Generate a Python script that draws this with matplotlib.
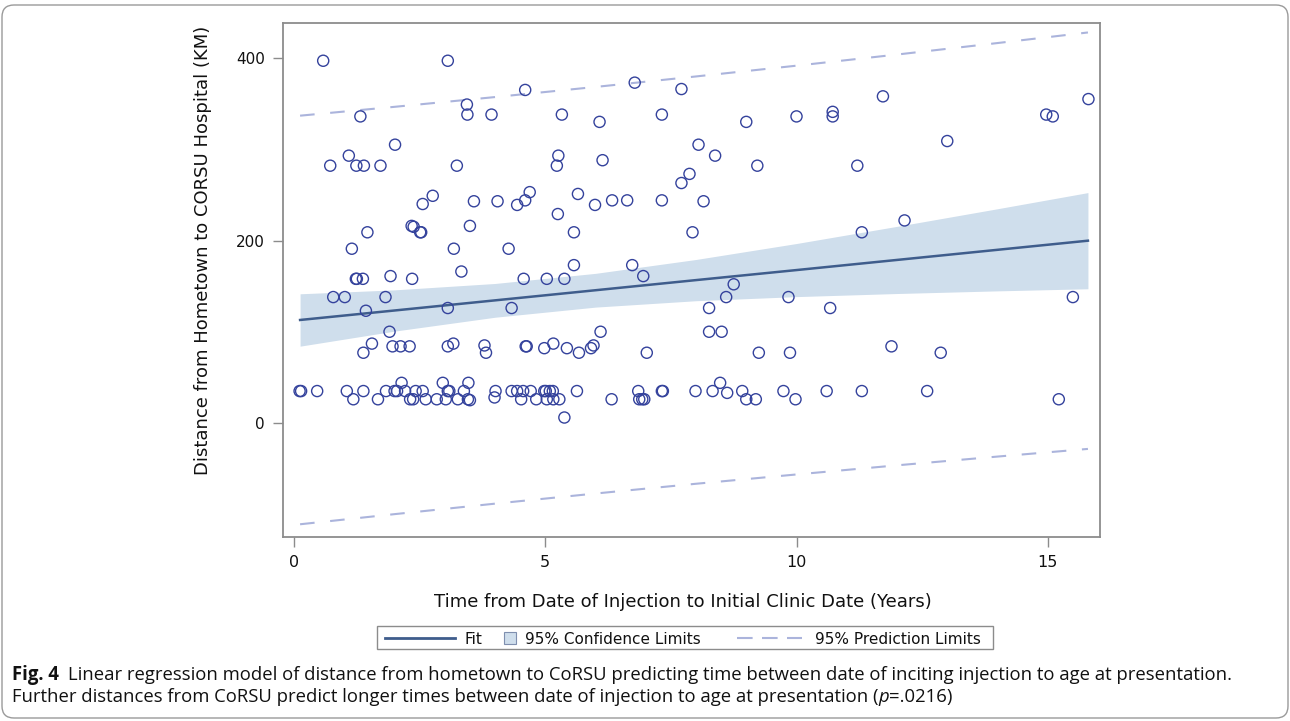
import numpy as np
import matplotlib
matplotlib.use("Agg")
import matplotlib.pyplot as plt
from matplotlib.lines import Line2D
from matplotlib.patches import Rectangle, FancyBboxPatch
from matplotlib.transforms import IdentityTransform

# ---------------- data ----------------
years = [
    0.58, 3.06, 4.60, 6.78, 7.71, 1.32, 3.44, 3.45, 3.93, 5.33, 6.08, 7.32, 2.01, 1.09, 0.72,
    1.24, 1.39, 1.72, 3.24, 5.26, 5.23, 6.14, 7.71, 2.76, 2.56, 3.58, 4.05, 4.44, 4.60, 4.69,
    5.65, 5.99, 6.33, 6.63, 7.32, 5.25, 2.34, 2.38, 2.51, 2.53, 1.46, 3.50, 5.57, 1.15, 3.18,
    4.27, 5.57, 6.73, 6.95, 1.23, 1.25, 1.37, 1.92, 2.35, 3.33, 4.57, 5.03, 5.38, 0.78, 1.01,
    1.82, 1.43, 3.06, 4.33,
    11.72, 15.81, 10.00, 10.72, 10.72, 14.97, 15.10, 9.00, 13.00, 8.05, 8.38, 9.22, 11.21,
    7.87, 8.15, 7.93, 11.30, 12.15, 8.75, 8.60, 9.84, 15.50, 8.26, 10.67,
    8.26, 8.51, 9.25, 9.87, 11.89, 12.87, 7.34, 7.99, 8.33, 8.48, 8.62, 8.92, 9.00, 9.19,
    9.74, 9.98, 10.60, 11.30, 12.60, 15.22,
    1.90, 6.10, 1.55, 1.38, 1.96, 2.12, 2.30, 3.06, 3.17, 3.79, 3.82, 4.61, 4.63, 4.98, 5.16,
    5.43, 5.67, 5.91, 5.96, 7.02,
    0.11, 0.14, 0.46, 1.05, 1.18, 1.38, 1.67, 1.83, 2.00, 2.05, 2.14, 2.21, 2.31, 2.37, 2.42,
    2.56, 2.62, 2.84, 2.96, 3.02, 3.06, 3.09, 3.26, 3.38, 3.47, 3.46, 3.50, 4.01, 3.99, 4.33,
    4.44, 4.52, 4.56, 4.71, 4.82, 4.98, 5.01, 5.03, 5.09, 5.15, 5.16, 5.28, 5.38, 5.63, 6.32,
    6.85, 6.87, 6.93, 6.97, 7.32,
]
distance_km = [
    397, 397, 365, 373, 366, 336, 349, 338, 338, 338, 330, 338, 305, 293, 282,
    282, 282, 282, 282, 293, 282, 288, 263, 249, 240, 243, 243, 239, 244, 253,
    251, 239, 244, 244, 244, 229, 216, 215, 209, 209, 209, 216, 209, 191, 191,
    191, 173, 173, 161, 158, 158, 158, 161, 158, 166, 158, 158, 158, 138, 138,
    138, 123, 126, 126,
    358, 355, 336, 341, 336, 338, 336, 330, 309, 305, 293, 282, 282,
    273, 243, 209, 209, 222, 152, 138, 138, 138, 126, 126,
    100, 100, 77, 77, 84, 77, 35, 35, 35, 44, 33, 35, 26, 26,
    35, 26, 35, 35, 35, 26,
    100, 100, 87, 77, 84, 84, 84, 84, 87, 85, 77, 84, 84, 82, 87,
    82, 77, 82, 85, 77,
    35, 35, 35, 35, 26, 35, 26, 35, 35, 35, 44, 35, 26, 26, 35,
    35, 26, 26, 44, 26, 35, 35, 26, 35, 44, 26, 25, 35, 28, 35,
    35, 26, 35, 35, 26, 35, 35, 26, 35, 35, 26, 26, 6, 35, 26,
    35, 26, 26, 26, 35,
]

# regression curves
curve_x = [0.12, 2, 4, 6, 8, 10, 12, 14, 15.8]
fit_y = [112.9, 123.3, 134.4, 145.5, 156.6, 167.6, 178.7, 189.8, 199.8]
cl_lower = [84.2, 100.7, 115.9, 127.0, 134.0, 138.5, 141.9, 144.8, 147.1]
cl_upper = [141.6, 145.9, 152.9, 164.0, 179.2, 196.7, 215.5, 234.8, 252.5]
pl_lower = [-111.0, -99.9, -88.4, -77.3, -66.6, -56.4, -46.4, -36.8, -28.4]
pl_upper = [336.8, 346.5, 357.2, 368.3, 379.8, 391.6, 403.8, 416.4, 428.0]

x_ticks = [0, 5, 10, 15]
y_ticks = [0, 200, 400]

x_title = "Time from Date of Injection to Initial Clinic Date (Years)"
y_title = "Distance from Hometown to CORSU Hospital (KM)"
legend_labels = ["Fit", "95% Confidence Limits", "95% Prediction Limits"]
caption_bold = "Fig. 4"
caption_line1 = ("Linear regression model of distance from hometown to CoRSU predicting time "
                 "between date of inciting injection to age at presentation.")
caption_line2a = "Further distances from CoRSU predict longer times between date of injection to age at presentation ("
caption_line2b = "p"
caption_line2c = "=.0216)"

# ---------------- style ----------------
W, H = 1290, 721
C_MARK = "#34429C"
C_FIT = "#3F5D8C"
C_BAND = "#CFDEEC"
C_PL = "#ABB4DC"
C_SPINE = "#8C8C8C"
TXT = "#111111"
plot_font = ["DejaVu Sans"]
cap_font = ["Open Sans", "DejaVu Sans"]


def fx(x):
    return x / W


def fy(y):
    return 1 - y / H


fig = plt.figure(figsize=(W / 100, H / 100), dpi=100)
ax = fig.add_axes([fx(283), fy(536.5), (1100 - 283) / W, (536.5 - 22.7) / H])

ax.fill_between(curve_x, cl_lower, cl_upper, color=C_BAND, lw=0, zorder=1)
ax.plot(curve_x, fit_y, color=C_FIT, lw=1.8, zorder=3)
for ys in (pl_lower, pl_upper):
    ax.plot(curve_x, ys, color=C_PL, lw=1.5, linestyle=(0, (7, 7.5)), zorder=2)
ax.scatter(years, distance_km, s=64, facecolors="none", edgecolors=C_MARK,
           linewidths=1.0, zorder=4)

ax.set_xlim(-0.22, 16.04)
ax.set_ylim(-124.4, 438.7)
ax.set_xticks(x_ticks)
ax.set_yticks(y_ticks)
ax.tick_params(direction="out", length=7, width=1, color=C_SPINE, pad=6)
ax.tick_params(axis="x", labelsize=11.5)
ax.tick_params(axis="y", labelsize=11)
for lab in ax.get_xticklabels() + ax.get_yticklabels():
    lab.set_family(plot_font)
    lab.set_color(TXT)
for sp in ax.spines.values():
    sp.set_color(C_SPINE)
    sp.set_linewidth(1.3)

fig.text(fx(683), fy(602), x_title, ha="center", va="center",
         fontsize=13, family=plot_font, color=TXT)
fig.text(fx(203), fy(250), y_title, ha="center", va="center", rotation=90,
         fontsize=13, family=plot_font, color=TXT)

# ---------------- legend (drawn in figure space) ----------------
ly = 637.5
tf = fig.transFigure
fig.add_artist(Rectangle((fx(377), fy(649)), fx(993) - fx(377), (649 - 626) / H,
                         transform=tf, fill=False, edgecolor=C_SPINE, lw=1.0))
fig.add_artist(Line2D([fx(385), fx(455)], [fy(ly)] * 2, transform=tf, color=C_FIT, lw=2))
fig.text(fx(465), fy(ly), legend_labels[0], ha="left", va="center_baseline",
         fontsize=11, family=plot_font, color=TXT)
fig.add_artist(Rectangle((fx(504), fy(643.5)), 12 / W, 12 / H, transform=tf,
                         facecolor=C_BAND, edgecolor="#7F8FAF", lw=0.8))
fig.text(fx(525), fy(ly), legend_labels[1], ha="left", va="center_baseline",
         fontsize=11, family=plot_font, color=TXT)
fig.add_artist(Line2D([fx(737), fx(802)], [fy(ly)] * 2, transform=tf, color=C_PL,
                      lw=1.5, linestyle=(0, (7.5, 4.5))))
fig.text(fx(815), fy(ly), legend_labels[2], ha="left", va="center_baseline",
         fontsize=11, family=plot_font, color=TXT)

# ---------------- caption ----------------
r = fig.canvas.get_renderer()
Y1, Y2 = 675, 697
cap_size = 12.0
t0 = fig.text(fx(12), fy(Y1), caption_bold, fontsize=cap_size, family=cap_font,
              weight="bold", va="center", ha="left", color=TXT)
t1 = fig.text(fx(100), fy(Y1), caption_line1, fontsize=cap_size, family=cap_font,
              va="center", ha="left", color=TXT)
# fit the first caption line to the width it has in the reference
for _ in range(4):
    t0.set_fontsize(cap_size)
    t1.set_fontsize(cap_size)
    bb0 = t0.get_window_extent(r)
    t1.set_x((bb0.x1 + 9) / W)
    bb1 = t1.get_window_extent(r)
    cap_size *= (1238 - 12 - 9) / (bb1.x1 - 12 - 9)

t0.set_fontsize(cap_size)
t1.set_fontsize(cap_size)
bb0 = t0.get_window_extent(r)
t1.set_x((bb0.x1 + 9) / W)

ta = fig.text(fx(12), fy(Y2), caption_line2a, fontsize=cap_size, family=cap_font,
              va="center", ha="left", color=TXT)
bb = ta.get_window_extent(r)
tb = fig.text(bb.x1 / W, fy(Y2), caption_line2b, fontsize=cap_size, family=cap_font,
              style="italic", va="center", ha="left", color=TXT)
bb = tb.get_window_extent(r)
fig.text(bb.x1 / W, fy(Y2), caption_line2c, fontsize=cap_size, family=cap_font,
         va="center", ha="left", color=TXT)

# outer rounded border
frame = FancyBboxPatch((2, 3), 1286, 713, boxstyle="round,pad=0,rounding_size=12",
                       transform=IdentityTransform(), fill=False, edgecolor="#9A9A9A",
                       lw=1.0)
fig.add_artist(frame)

fig.savefig("out.png", dpi=100)
